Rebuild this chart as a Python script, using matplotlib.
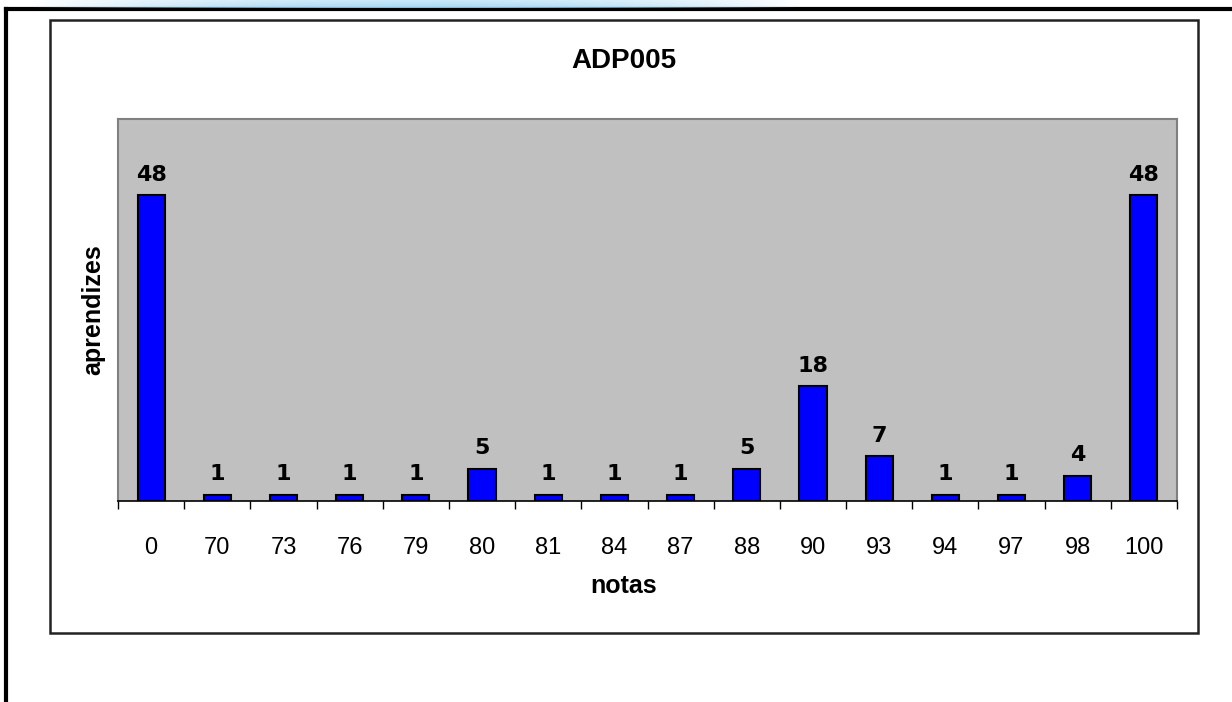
import numpy as np
import matplotlib
matplotlib.use("Agg")
import matplotlib.pyplot as plt
from matplotlib.patches import Rectangle
from matplotlib.lines import Line2D

categories = ["0", "70", "73", "76", "79", "80", "81", "84", "87", "88",
              "90", "93", "94", "97", "98", "100"]
counts = [48, 1, 1, 1, 1, 5, 1, 1, 1, 5, 18, 7, 1, 1, 4, 48]
title = "ADP005"
xlabel = "notas"
ylabel = "aprendizes"

W, H = 1232, 702
fig = plt.figure(figsize=(W / 100, H / 100), dpi=100)
fig.patch.set_facecolor("white")

def fx(px):
    return px / W

def fy(py):
    return 1 - py / H

# decorative light-blue strip at the top
deco = fig.add_axes([fx(30), fy(8), fx(800) - fx(30), fy(0) - fy(8)])
deco.axis("off")
xs = np.linspace(-1, 1, 400)
ys = np.linspace(0, 1, 20)
X, Y = np.meshgrid(xs, ys)
alpha = np.clip(1 - np.abs(X) ** 2, 0, 1) * (0.6 + 0.4 * Y)
rgba = np.zeros((20, 400, 4))
rgba[..., 0] = 0.62
rgba[..., 1] = 0.83
rgba[..., 2] = 0.95
rgba[..., 3] = alpha * 0.9
deco.imshow(rgba, aspect="auto", extent=[0, 1, 0, 1])

# outer page border (top and left)
fig.add_artist(Line2D([fx(6), 1], [fy(9), fy(9)], color="black", lw=3,
                      transform=fig.transFigure, zorder=-2))
fig.add_artist(Line2D([fx(6), fx(6)], [fy(9), 0], color="black", lw=3,
                      transform=fig.transFigure, zorder=-2))

# chart box
fig.add_artist(Rectangle((fx(50), fy(633)), fx(1198) - fx(50), fy(20) - fy(633),
                         transform=fig.transFigure, facecolor="white",
                         edgecolor="#222222", lw=1.8, zorder=-1))

left, right, top, bottom = 118, 1177, 119, 501
ax = fig.add_axes([fx(left), fy(bottom), fx(right) - fx(left), fy(top) - fy(bottom)])
ax.set_zorder(2)
ax.set_facecolor("#C0C0C0")

x = np.arange(len(categories))
ax.bar(x, counts, width=0.41, color="#0000FF", edgecolor="black", linewidth=1.5,
       zorder=3)
for xi, v in zip(x, counts):
    ax.annotate(str(v), (xi, v), xytext=(0, 15), textcoords="offset points",
                ha="center", va="center", fontsize=16, fontweight="bold",
                family="DejaVu Sans", zorder=4)

ax.set_xlim(-0.5, len(categories) - 0.5)
ax.set_ylim(0, 60)
ax.set_yticks([])
ax.set_xticks(np.arange(-0.5, len(categories), 1.0))
ax.set_xticklabels([])
ax.set_xticks(x, minor=True)
ax.set_xticklabels(categories, minor=True, fontsize=17, family="Liberation Sans")
ax.tick_params(axis="x", which="major", direction="out", length=6, width=1,
               color="black")
ax.tick_params(axis="x", which="minor", length=0, pad=26)

for s in ["left", "top", "right"]:
    ax.spines[s].set_color("#808080")
    ax.spines[s].set_linewidth(1.5)
ax.spines["bottom"].set_color("black")
ax.spines["bottom"].set_linewidth(1.2)

fig.text(fx(624), fy(61), title, ha="center", va="center", fontsize=20,
         fontweight="bold", family="Liberation Sans", zorder=3)
fig.text(fx(624), fy(586), xlabel, ha="center", va="center", fontsize=18,
         fontweight="bold", family="Liberation Sans", zorder=3)
fig.text(fx(93), fy(310), ylabel, ha="center", va="center", fontsize=18,
         fontweight="bold", family="Liberation Sans", rotation=90, zorder=3)

fig.savefig("out.png", dpi=100)
